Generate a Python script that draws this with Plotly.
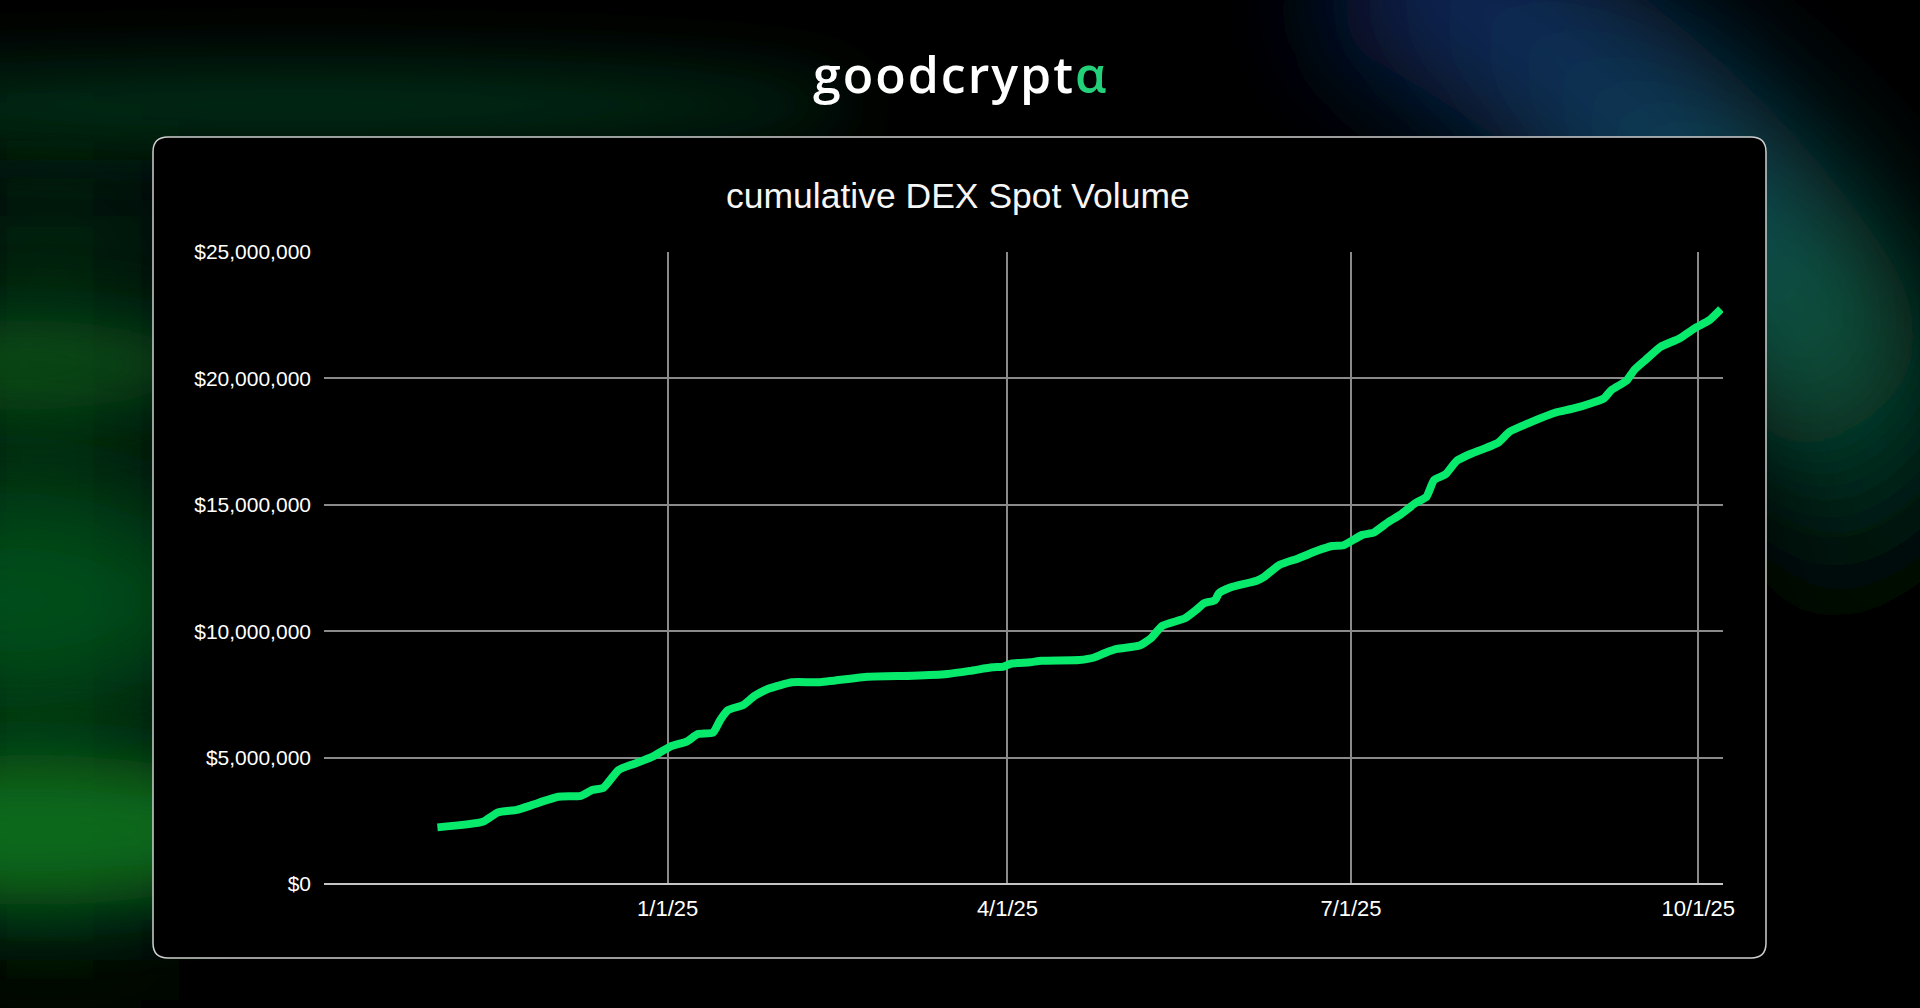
import base64
import plotly.graph_objects as go

# ---------------- data ----------------
DATES = [
    "2024-11-01", "2024-11-13", "2024-11-17", "2024-11-22", "2024-11-26",
    "2024-12-03", "2024-12-09", "2024-12-12", "2024-12-15", "2024-12-19",
    "2024-12-23", "2024-12-28", "2025-01-02", "2025-01-06", "2025-01-09",
    "2025-01-13", "2025-01-15", "2025-01-17", "2025-01-21", "2025-01-24",
    "2025-01-28", "2025-02-03", "2025-02-10", "2025-02-23", "2025-03-07",
    "2025-03-16", "2025-03-22", "2025-03-28", "2025-03-31", "2025-04-02",
    "2025-04-07", "2025-04-10", "2025-04-20", "2025-04-24", "2025-04-27",
    "2025-04-30", "2025-05-06", "2025-05-09", "2025-05-12", "2025-05-18",
    "2025-05-21", "2025-05-23", "2025-05-26", "2025-05-27", "2025-05-30",
    "2025-06-06", "2025-06-08", "2025-06-12", "2025-06-17", "2025-06-22",
    "2025-06-26", "2025-06-29", "2025-07-04", "2025-07-07", "2025-07-11",
    "2025-07-14", "2025-07-18", "2025-07-21", "2025-07-23", "2025-07-26",
    "2025-07-29", "2025-08-01", "2025-08-09", "2025-08-12", "2025-08-18",
    "2025-08-24", "2025-08-29", "2025-09-03", "2025-09-06", "2025-09-08",
    "2025-09-12", "2025-09-14", "2025-09-17", "2025-09-21", "2025-09-26",
    "2025-09-30", "2025-10-04", "2025-10-07",
]
VOLUME_MILLIONS = [
    2.24, 2.46, 2.83, 2.93, 3.12,
    3.45, 3.49, 3.72, 3.81, 4.51,
    4.75, 5.04, 5.46, 5.63, 5.93,
    5.99, 6.51, 6.88, 7.08, 7.44,
    7.74, 7.98, 7.98, 8.20, 8.24,
    8.31, 8.43, 8.57, 8.60, 8.72,
    8.77, 8.83, 8.86, 8.96, 9.15,
    9.30, 9.43, 9.72, 10.21, 10.51,
    10.84, 11.10, 11.23, 11.50, 11.73,
    12.00, 12.15, 12.62, 12.88, 13.18,
    13.37, 13.40, 13.81, 13.90, 14.33,
    14.60, 15.06, 15.32, 15.98, 16.20,
    16.74, 16.97, 17.46, 17.89, 18.29,
    18.64, 18.81, 19.04, 19.21, 19.54,
    19.91, 20.33, 20.73, 21.25, 21.58,
    21.98, 22.31, 22.74,
]
Y_TICK_VALUES = [0, 5_000_000, 10_000_000, 15_000_000, 20_000_000, 25_000_000]
Y_TICK_LABELS = ["$0", "$5,000,000", "$10,000,000", "$15,000,000", "$20,000,000", "$25,000,000"]
X_TICK_VALUES = ["2025-01-01", "2025-04-01", "2025-07-01", "2025-10-01"]
X_TICK_LABELS = ["1/1/25", "4/1/25", "7/1/25", "10/1/25"]
TITLE = "cumulative DEX Spot Volume"

# ---------------- geometry ----------------
FW, FH = 1920, 1008
L, R, T, B = 324, 1723, 252, 884
PW, PH = R - L, B - T


def px(x):
    return (x - L) / PW


def py(y):
    return (B - y) / PH


volume = [v * 1_000_000 for v in VOLUME_MILLIONS]

# ---------------- background (decorative glow) ----------------
svg = f"""<svg xmlns="http://www.w3.org/2000/svg" width="{FW}" height="{FH}" viewBox="0 0 {FW} {FH}">
<defs>
<filter id="b1" x="-100%" y="-100%" width="300%" height="300%"><feGaussianBlur stdDeviation="35"/></filter>
<filter id="b2" x="-100%" y="-100%" width="300%" height="300%"><feGaussianBlur stdDeviation="60"/></filter>
<linearGradient id="band" gradientUnits="userSpaceOnUse" x1="1300" y1="0" x2="1880" y2="600">
<stop offset="0" stop-color="#0b1d52"/>
<stop offset="0.4" stop-color="#0b3a5a"/>
<stop offset="0.72" stop-color="#0b5a40"/>
<stop offset="1" stop-color="#000000"/>
</linearGradient>
</defs>
<rect width="{FW}" height="{FH}" fill="#000"/>
<rect x="-60" y="160" width="220" height="800" fill="#03200c" filter="url(#b2)"/>
<ellipse cx="300" cy="105" rx="560" ry="38" fill="#064220" opacity="0.75" filter="url(#b1)"/>
<ellipse cx="10" cy="365" rx="200" ry="45" fill="#075a1e" opacity="0.8" filter="url(#b1)"/>
<ellipse cx="0" cy="600" rx="230" ry="110" fill="#06581c" opacity="0.85" filter="url(#b2)"/>
<ellipse cx="30" cy="830" rx="270" ry="75" fill="#0a6e1c" opacity="0.95" filter="url(#b1)"/>
<path d="M 1360 -60 C 1560 40, 1740 180, 1845 380 S 1900 560, 1900 640" stroke="url(#band)" stroke-width="200" fill="none" opacity="1" filter="url(#b2)"/>
</svg>"""
bg_src = "data:image/svg+xml;base64," + base64.b64encode(svg.encode()).decode()

# ---------------- card path (rounded rectangle) ----------------
cx0, cy0, cx1, cy1, r = 153, 137, 1766, 958, 15


def P(x, y):
    return f"{px(x):.6f},{py(y):.6f}"


card_path = (
    f"M {P(cx0 + r, cy0)} L {P(cx1 - r, cy0)} Q {P(cx1, cy0)} {P(cx1, cy0 + r)} "
    f"L {P(cx1, cy1 - r)} Q {P(cx1, cy1)} {P(cx1 - r, cy1)} "
    f"L {P(cx0 + r, cy1)} Q {P(cx0, cy1)} {P(cx0, cy1 - r)} "
    f"L {P(cx0, cy0 + r)} Q {P(cx0, cy0)} {P(cx0 + r, cy0)} Z"
)

fig = go.Figure()
fig.add_trace(go.Scatter(
    x=DATES, y=volume, mode="lines",
    line=dict(color="#08EA6C", width=8, shape="spline", smoothing=0.5),
    hoverinfo="skip", showlegend=False,
))

fig.update_layout(
    width=FW, height=FH,
    margin=dict(l=L, r=FW - R, t=T, b=FH - B, pad=0),
    paper_bgcolor="#000000",
    plot_bgcolor="rgba(0,0,0,0)",
    showlegend=False,
    images=[dict(
        source=bg_src, xref="paper", yref="paper",
        x=px(0), y=py(0), sizex=FW / PW, sizey=FH / PH,
        xanchor="left", yanchor="top", sizing="stretch", layer="below",
    )],
    shapes=[dict(
        type="path", xref="paper", yref="paper", path=card_path,
        fillcolor="#000000", line=dict(color="#cfcfcf", width=1.5), layer="below",
    )],
    annotations=[
        dict(
            text=TITLE, xref="paper", yref="paper", x=px(958), y=py(196),
            xanchor="center", yanchor="middle", showarrow=False,
            font=dict(family="Liberation Sans, Arial", size=35.5, color="#f6f6f6"),
        ),
        dict(
            text="<span style='letter-spacing:2px'>goodcrypt<span style='color:#25d07a'>α</span></span>",
            xref="paper", yref="paper", x=px(960), y=py(74),
            xanchor="center", yanchor="middle", showarrow=False,
            font=dict(family="Open Sans", size=50, color="#ffffff", weight=600),
        ),
    ],
    xaxis=dict(
        type="date",
        range=["2024-10-01 23:00", "2025-10-07 13:00"],
        tickvals=X_TICK_VALUES, ticktext=X_TICK_LABELS,
        showgrid=True, gridcolor="#8a8a8a", gridwidth=1.5,
        zeroline=False, showline=False, ticks="",
        ticklabelstandoff=9,
        tickfont=dict(family="Liberation Sans, Arial", size=22, color="#ffffff"),
        fixedrange=True,
    ),
    yaxis=dict(
        range=[0, 25_000_000],
        tickvals=Y_TICK_VALUES, ticktext=Y_TICK_LABELS,
        showgrid=True, gridcolor="#8a8a8a", gridwidth=1.5,
        zeroline=True, zerolinecolor="#c4c4c4", zerolinewidth=2,
        showline=False, ticks="",
        ticklabelstandoff=12,
        tickfont=dict(family="Liberation Sans, Arial", size=21, color="#ffffff"),
        fixedrange=True,
    ),
)

fig.write_html(
    "out.html",
    config={"displayModeBar": False},
    post_script="document.body.style.margin='0';document.body.style.overflow='hidden';",
)
